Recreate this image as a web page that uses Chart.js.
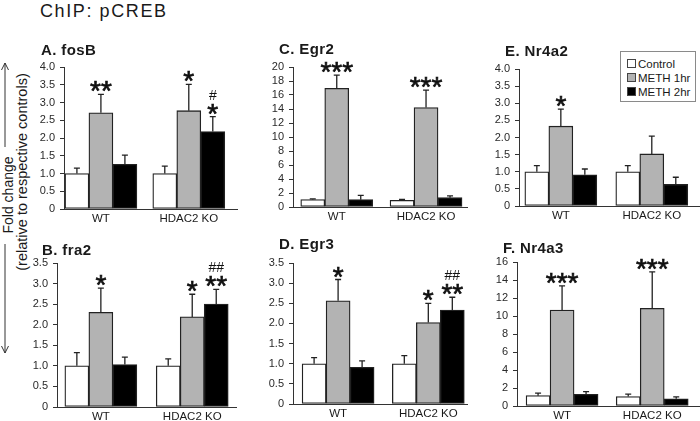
<!DOCTYPE html>
<html><head><meta charset="utf-8">
<script src="https://cdn.jsdelivr.net/npm/chart.js@4.4.1/dist/chart.umd.min.js"></script>
<style>
html,body{margin:0;padding:0;background:#fff;}
#wrap{position:relative;width:700px;height:421px;overflow:hidden;font-family:"Liberation Sans",Arial,sans-serif;color:#1a1a1a;}
canvas{position:absolute;}
.main{position:absolute;left:40px;top:2px;font-size:18px;line-height:18px;letter-spacing:1.6px;white-space:nowrap;}
.pt{position:absolute;font-weight:bold;font-size:15px;line-height:15px;letter-spacing:0.4px;white-space:nowrap;}
#legend{position:absolute;left:620px;top:51px;width:76px;height:51px;border:1px solid #8a8a8a;box-sizing:border-box;font-size:11.5px;padding:5px 0 0 6px;}
#legend div{height:14px;line-height:14px;white-space:nowrap;}
#legend span.sw{display:inline-block;width:7px;height:7px;border:1px solid #444;margin-right:2px;vertical-align:0px;}
</style></head>
<body><div id="wrap">
<div class="main">ChIP: pCREB</div>
<svg style="position:absolute;left:0;top:0" width="40" height="421">
  <line x1="5" y1="63" x2="5" y2="147" stroke="#333" stroke-width="1"/>
  <line x1="5" y1="244" x2="5" y2="353" stroke="#333" stroke-width="1"/>
  <polyline points="1.5,70 5,63 8.5,70" fill="none" stroke="#333"/>
  <polyline points="1.5,346 5,353 8.5,346" fill="none" stroke="#333"/>
  <text transform="translate(12.5,195) rotate(-90)" text-anchor="middle" font-family="Liberation Sans, Arial" font-size="14" fill="#1a1a1a">Fold change</text>
  <text transform="translate(26.5,172) rotate(-90)" text-anchor="middle" font-family="Liberation Sans, Arial" font-size="14.5" fill="#1a1a1a">(relative to respective controls)</text>
</svg>
<div id="legend"></div>
</div>
<script>
// ---------- data ----------
const groups = ['WT', 'HDAC2 KO'];
const series = ['Control', 'METH 1hr', 'METH 2hr'];

const ticks_40 = ['0','0.5','1.0','1.5','2.0','2.5','3.0','3.5','4.0'];
const ticks_35 = ['0','0.5','1.0','1.5','2.0','2.5','3.0','3.5'];
const ticks_20 = ['0','2','4','6','8','10','12','14','16','18','20'];
const ticks_16 = ['0','2','4','6','8','10','12','14','16'];

// rows: Control, METH 1hr, METH 2hr ; columns: WT, HDAC2 KO
const fosB_mean = [[1.00, 1.00], [2.71, 2.77], [1.26, 2.18]];
const fosB_sem  = [[0.15, 0.21], [0.52, 0.74], [0.26, 0.42]];
const fosB_sig  = [['', ''], ['**', '*'], ['', '*']];
const fosB_hash = [['', ''], ['', ''], ['', '#']];

const fra2_mean = [[1.00, 1.00], [2.30, 2.19], [1.03, 2.50]];
const fra2_sem  = [[0.32, 0.17], [0.59, 0.55], [0.18, 0.36]];
const fra2_sig  = [['', ''], ['*', '*'], ['', '**']];
const fra2_hash = [['', ''], ['', ''], ['', '##']];

const egr2_mean = [[1.05, 0.95], [16.95, 14.20], [1.05, 1.33]];
const egr2_sem  = [[0.12, 0.12], [1.90, 2.50], [0.60, 0.25]];
const egr2_sig  = [['', ''], ['***', '***'], ['', '']];
const egr2_hash = [['', ''], ['', ''], ['', '']];

const egr3_mean = [[1.00, 1.00], [2.56, 2.02], [0.91, 2.33]];
const egr3_sem  = [[0.15, 0.20], [0.53, 0.48], [0.16, 0.32]];
const egr3_sig  = [['', ''], ['*', '*'], ['', '**']];
const egr3_hash = [['', ''], ['', ''], ['', '##']];

const nr4a2_mean = [[1.00, 1.00], [2.33, 1.52], [0.91, 0.63]];
const nr4a2_sem  = [[0.18, 0.18], [0.50, 0.52], [0.17, 0.21]];
const nr4a2_sig  = [['', ''], ['*', ''], ['', '']];
const nr4a2_hash = [['', ''], ['', ''], ['', '']];

const nr4a3_mean = [[1.15, 1.05], [10.65, 10.85], [1.30, 0.80]];
const nr4a3_sem  = [[0.28, 0.28], [2.70, 4.05], [0.30, 0.22]];
const nr4a3_sig  = [['', ''], ['***', '***'], ['', '']];
const nr4a3_hash = [['', ''], ['', ''], ['', '']];

// ---------- styles / layout ----------
const fills = ['#ffffff', '#b3b3b3', '#000000'];
const FONT = '"Liberation Sans", Arial, sans-serif';

const panels = [
  {title:'A. fosB',  mean:fosB_mean,  sem:fosB_sem,  sig:fosB_sig,  hash:fosB_hash,  ticks:ticks_40, ax:64,  aend:238, top:67,  zero:209, xmin:-0.42, xmax:1.56, tx:41,  tb:55},
  {title:'B. fra2',  mean:fra2_mean,  sem:fra2_sem,  sig:fra2_sig,  hash:fra2_hash,  ticks:ticks_35, ax:57,  aend:237, top:263, zero:407, xmin:-0.48, xmax:1.49, tx:42,  tb:255},
  {title:'C. Egr2',  mean:egr2_mean,  sem:egr2_sem,  sig:egr2_sig,  hash:egr2_hash,  ticks:ticks_20, ax:293, aend:468, top:67,  zero:207, xmin:-0.49, xmax:1.47, tx:279, tb:54},
  {title:'D. Egr3',  mean:egr3_mean,  sem:egr3_sem,  sig:egr3_sig,  hash:egr3_hash,  ticks:ticks_35, ax:293, aend:468, top:263, zero:404, xmin:-0.50, xmax:1.44, tx:279, tb:249},
  {title:'E. Nr4a2', mean:nr4a2_mean, sem:nr4a2_sem, sig:nr4a2_sig, hash:nr4a2_hash, ticks:ticks_40, ax:519, aend:700, top:69,  zero:206, xmin:-0.46, xmax:1.53, tx:505, tb:56},
  {title:'F. Nr4a3', mean:nr4a3_mean, sem:nr4a3_sem, sig:nr4a3_sig, hash:nr4a3_hash, ticks:ticks_16, ax:517, aend:700, top:262, zero:406, xmin:-0.50, xmax:1.53, tx:503, tb:253}
];

const YW = 34, XH = 24, PT = 26;

function makeErrPlugin(p) {
  return {
    id: 'errsig',
    afterDatasetsDraw(chart) {
      const ctx = chart.ctx, y = chart.scales.y;
      chart.data.datasets.forEach((ds, di) => {
        chart.getDatasetMeta(di).data.forEach((bar, i) => {
          const yTop = y.getPixelForValue(p.mean[di][i] + p.sem[di][i]);
          ctx.save();
          ctx.strokeStyle = '#222';
          ctx.lineWidth = 1.3;
          ctx.beginPath();
          ctx.moveTo(bar.x, bar.y); ctx.lineTo(bar.x, yTop);
          ctx.moveTo(bar.x - 3, yTop); ctx.lineTo(bar.x + 3, yTop);
          ctx.stroke();
          ctx.fillStyle = '#111';
          ctx.strokeStyle = '#111';
          ctx.lineWidth = 0.7;
          ctx.textAlign = 'center';
          ctx.textBaseline = 'alphabetic';
          const s = p.sig[di][i], h = p.hash[di][i];
          if (s) { ctx.font = '28px ' + FONT; ctx.fillText(s, bar.x, yTop + 6); ctx.strokeText(s, bar.x, yTop + 6); }
          if (h) { ctx.font = '14px ' + FONT; ctx.fillText(h, bar.x, yTop - 17); }
          ctx.restore();
        });
      });
    }
  };
}

const wrap = document.getElementById('wrap');
panels.forEach(p => {
  const c = document.createElement('canvas');
  const left = p.ax - YW, top = p.top - PT;
  const w = p.aend - left, h = p.zero + XH - top;
  c.width = w; c.height = h;
  c.style.left = left + 'px'; c.style.top = top + 'px';
  c.style.width = w + 'px'; c.style.height = h + 'px';
  wrap.appendChild(c);

  const t = document.createElement('div');
  t.className = 'pt'; t.textContent = p.title;
  t.style.left = p.tx + 'px'; t.style.top = (p.tb - 12.7) + 'px';
  wrap.appendChild(t);

  const yMax = parseFloat(p.ticks[p.ticks.length - 1]);

  new Chart(c, {
    type: 'bar',
    data: {
      datasets: series.map((s, si) => ({
        label: s,
        data: groups.map((g, gi) => ({x: gi, y: p.mean[si][gi]})),
        backgroundColor: fills[si],
        borderColor: '#222',
        borderWidth: 1.3,
        borderSkipped: false,
        barThickness: 24
      }))
    },
    options: {
      responsive: false,
      animation: false,
      devicePixelRatio: 1,
      layout: {padding: {top: PT, left: 0, right: 0, bottom: 0}},
      plugins: {legend: {display: false}, tooltip: {enabled: false}},
      scales: {
        x: {
          type: 'linear', min: p.xmin, max: p.xmax, offset: false, bounds: 'data',
          grid: {display: false, drawTicks: false},
          border: {display: true, color: '#333', width: 1},
          afterBuildTicks: s => { s.ticks = groups.map((g, i) => ({value: i})); },
          afterFit: s => { s.height = XH; },
          ticks: {
            autoSkip: false, maxRotation: 0, padding: 3,
            color: '#1a1a1a', font: {family: FONT, size: 11.5},
            callback: (v, i) => groups[i]
          }
        },
        y: {
          min: 0, max: yMax,
          grid: {display: true, drawOnChartArea: false, drawTicks: true, tickLength: 4, color: '#333'},
          border: {display: true, color: '#333', width: 1},
          afterBuildTicks: s => { s.ticks = p.ticks.map(v => ({value: parseFloat(v)})); },
          afterFit: s => { s.width = YW; },
          ticks: {
            autoSkip: false, padding: 5, color: '#2a2a2a', font: {family: FONT, size: 11},
            callback: (v, i) => p.ticks[i]
          }
        }
      }
    },
    plugins: [makeErrPlugin(p)]
  });
});

// legend
const lg = document.getElementById('legend');
series.forEach((s, i) => {
  const d = document.createElement('div');
  const sw = document.createElement('span');
  sw.className = 'sw'; sw.style.background = fills[i];
  d.appendChild(sw);
  d.appendChild(document.createTextNode(s));
  lg.appendChild(d);
});
</script>
</body></html>
